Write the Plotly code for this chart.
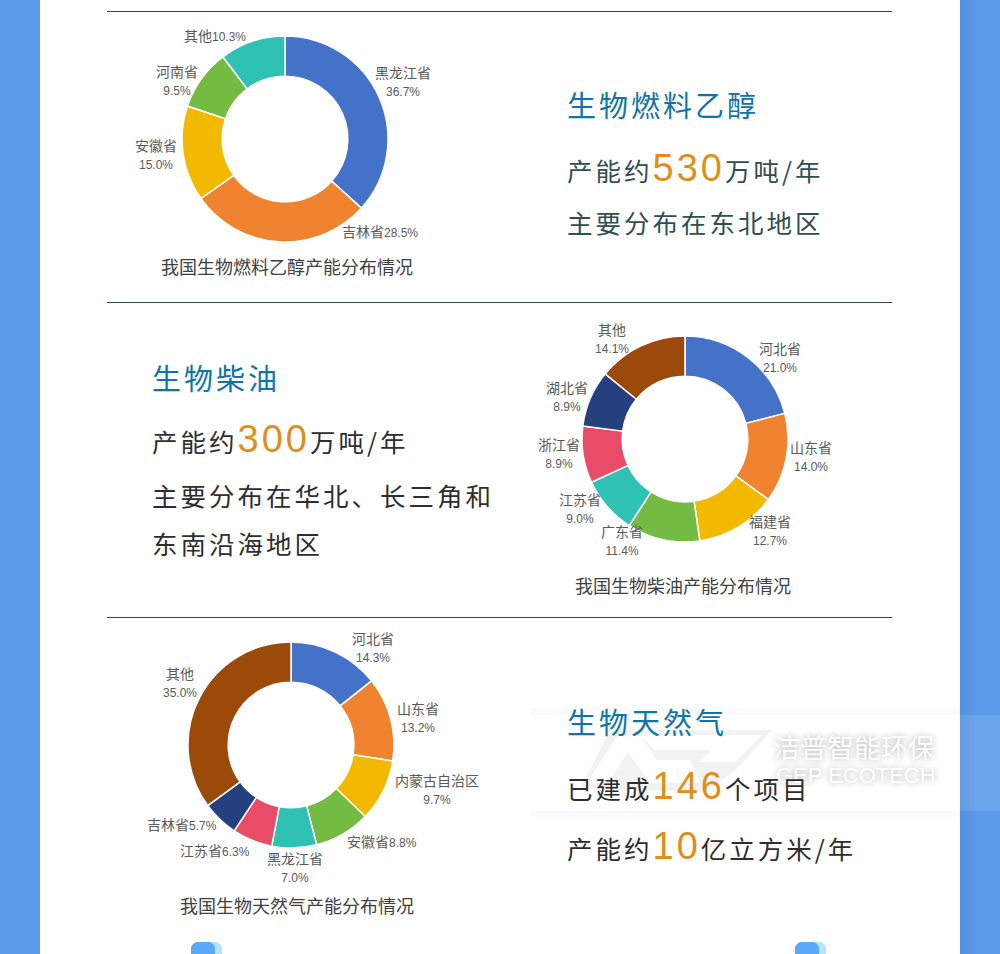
import plotly.graph_objects as go

W = 1000
H = 954

# ethanol
ethanol_names = ['黑龙江省', '吉林省', '安徽省', '河南省', '其他']
ethanol_values = [36.7, 28.5, 15.0, 9.5, 10.3]
# biodiesel
diesel_names = ['河北省', '山东省', '福建省', '广东省', '江苏省', '浙江省', '湖北省', '其他']
diesel_values = [21.0, 14.0, 12.7, 11.4, 9.0, 8.9, 8.9, 14.1]
# biogas
gas_names = ['河北省', '山东省', '内蒙古自治区', '安徽省', '黑龙江省', '江苏省', '吉林省', '其他']
gas_values = [14.3, 13.2, 9.7, 8.8, 7.0, 6.3, 5.7, 35.0]

ethanol_colors = ['#4472c8', '#f0832f', '#f2b900', '#74bb41', '#2fc1b4']
mixed_colors = ['#4472c8', '#f0832f', '#f2b900', '#74bb41', '#2fc1b4', '#e84c66', '#24407f', '#9c4a09']

# label centres in pixels, and whether the label sits on one line
ethanol_pos = [(403, 82, 2), (380, 232, 1), (156, 155, 2), (177, 81, 2), (215, 36, 1)]
diesel_pos = [(780, 358, 2), (811, 457, 2), (770, 531, 2), (622, 541, 2),
              (580, 509, 2), (559, 454, 2), (567, 397, 2), (612, 339, 2)]
gas_pos = [(373, 648, 2), (418, 718, 2), (437, 790, 2), (382, 842, 1),
           (295, 868, 2), (215, 851, 1), (182, 825, 1), (180, 683, 2)]

CJK = 'Noto Sans CJK SC'
LABEL_FONT = 'Liberation Sans, ' + CJK
NUM = '#dd8f1a'
DARK = '#2e2e2e'
SLATE = '#2f4f52'
TEAL = '#0f75a8'
TITLE_SIZE = 29
BODY_SIZE = 25.5


def px(x):
    return x / W


def py(y):
    return 1 - y / H


def pie(names, values, colors, cx, cy, r=103):
    return go.Pie(
        labels=names,
        values=values,
        marker=dict(colors=colors, line=dict(color='white', width=1.5)),
        hole=0.61,
        sort=False,
        direction='clockwise',
        rotation=0,
        textinfo='none',
        hoverinfo='label+percent',
        showlegend=False,
        domain=dict(x=[px(cx - r), px(cx + r)], y=[py(cy + r), py(cy - r)]),
    )


def note(x, y, text, size, color, anchor='left', family=CJK, align='center', shadow=None):
    font = dict(size=size, color=color, family=family)
    if shadow:
        font['shadow'] = shadow
    return dict(
        x=px(x), y=py(y), xref='paper', yref='paper', text=text, showarrow=False,
        xanchor=anchor, yanchor='middle', align=align, font=font, borderpad=0,
    )


def slice_labels(names, values, pos):
    out = []
    for name, value, (x, y, lines) in zip(names, values, pos):
        sep = '<br>' if lines == 2 else ''
        text = f'{name}{sep}<span style="font-size:12px">{value:.1f}%</span>'
        out.append(note(x, y, text, 14, '#595959', 'center', LABEL_FONT))
    return out


def big(prefix, number, suffix):
    return (f'{prefix}<span style="font-size:38px;font-family:Liberation Sans;color:{NUM}">'
            f'{number}</span>{suffix}')


def heading(x, y, text, size, color):
    return note(x, y, text, size, color, align='left')


def rect(x0, y0, x1, y1, color, layer='below'):
    return dict(type='rect', xref='paper', yref='paper', x0=px(x0), x1=px(x1),
                y0=py(y0), y1=py(y1), fillcolor=color, line=dict(width=0), layer=layer)


def poly(points, color, layer='above'):
    d = 'M ' + ' L '.join(f'{px(x)},{py(y)}' for x, y in points) + ' Z'
    return dict(type='path', xref='paper', yref='paper', path=d, fillcolor=color,
                line=dict(width=0), layer=layer)


def pill(x0, x1, color):
    top = 942
    pts = [(x0, H), (x0, top + 5), (x0 + 2, top + 2), (x0 + 5, top), (x1 - 5, top),
           (x1 - 2, top + 2), (x1, top + 5), (x1, H)]
    return poly(pts, color, 'below')


fig = go.Figure()
fig.add_trace(pie(ethanol_names, ethanol_values, ethanol_colors, 285, 139))
fig.add_trace(pie(diesel_names, diesel_values, mixed_colors, 685, 439))
fig.add_trace(pie(gas_names, gas_values, mixed_colors, 291, 745))

shapes = [rect(40, 0, 960, H, 'white')]
# shadow to the right of the card
for i, alpha in enumerate([0.10, 0.08, 0.06, 0.04, 0.02]):
    shapes.append(rect(960 + i * 3, 0, 963 + i * 3, H, f'rgba(30,70,140,{alpha})'))
for y in [11.5, 302.5, 617.5]:
    shapes.append(rect(107, y - 0.5, 892, y + 0.5, '#2c4a55'))
for x in [191, 795]:
    shapes.append(pill(x + 8, x + 31, '#b5e5fd'))
    shapes.append(pill(x, x + 24, '#5aa9f8'))

# watermark band and logo
shapes.append(rect(530, 708, 960, 715, 'rgba(0,0,0,0.015)', 'above'))
shapes.append(rect(530, 811, 960, 817, 'rgba(0,0,0,0.015)', 'above'))
shapes.append(rect(960, 715, 1000, 811, 'rgba(255,255,255,0.10)', 'above'))
shapes.append(poly([(580, 788), (610, 730), (772, 730), (738, 768), (705, 792)], 'rgba(0,0,0,0.05)'))
logo = 'white'
shapes.append(poly([(587, 783), (618, 735), (640, 735), (672, 783), (650, 783), (628, 752), (608, 783)], logo))
shapes.append(poly([(640, 735), (762, 735), (735, 762), (700, 762), (712, 750), (655, 750)], logo))
shapes.append(poly([(650, 760), (690, 760), (700, 783), (665, 783)], logo))

annotations = []
annotations += slice_labels(ethanol_names, ethanol_values, ethanol_pos)
annotations += slice_labels(diesel_names, diesel_values, diesel_pos)
annotations += slice_labels(gas_names, gas_values, gas_pos)

WM_SHADOW = '0 0 6px rgba(0,0,0,0.35)'
annotations += [
    note(287, 266, '我国生物燃料乙醇产能分布情况', 18, '#404040', 'center'),
    note(683, 585, '我国生物柴油产能分布情况', 18, '#404040', 'center'),
    note(297, 905, '我国生物天然气产能分布情况', 18, '#404040', 'center'),
    heading(566, 104, '生物燃料乙醇', TITLE_SIZE, TEAL),
    heading(566, 168, big('产能约', '530', '万吨/年'), BODY_SIZE, SLATE),
    heading(566, 222, '主要分布在东北地区', BODY_SIZE, SLATE),
    heading(151, 377, '生物柴油', TITLE_SIZE, TEAL),
    heading(151, 439, big('产能约', '300', '万吨/年'), BODY_SIZE, DARK),
    heading(151, 494, '主要分布在华北、长三角和', BODY_SIZE, DARK),
    heading(151, 542, '东南沿海地区', BODY_SIZE, DARK),
    heading(566, 721, '生物天然气', TITLE_SIZE, TEAL),
    note(772, 746, '洁普智能环保', 27, 'rgba(255,255,255,0.95)', shadow=WM_SHADOW),
    note(775, 775, 'GEP ECOTECH', 22, 'rgba(255,255,255,0.95)', family='Liberation Sans', shadow=WM_SHADOW),
    heading(566, 786, big('已建成', '146', '个项目'), BODY_SIZE, DARK),
    heading(566, 846, big('产能约', '10', '亿立方米/年'), BODY_SIZE, DARK),
]

fig.update_layout(
    width=W,
    height=H,
    margin=dict(l=0, r=0, t=0, b=0),
    paper_bgcolor='#5a9bea',
    plot_bgcolor='white',
    shapes=shapes,
    annotations=annotations,
)

# svg text has no letter spacing option in plotly, the headings need it
spacing = """
document.body.style.margin='0';
document.querySelectorAll('text.annotation-text').forEach(function (t) {
    var size = parseFloat(t.style.fontSize);
    if (size === %s || size === %s) { t.style.letterSpacing = '3px'; }
});
""" % (TITLE_SIZE, BODY_SIZE)

fig.write_html('out.html', config={'displayModeBar': False}, post_script=spacing)
